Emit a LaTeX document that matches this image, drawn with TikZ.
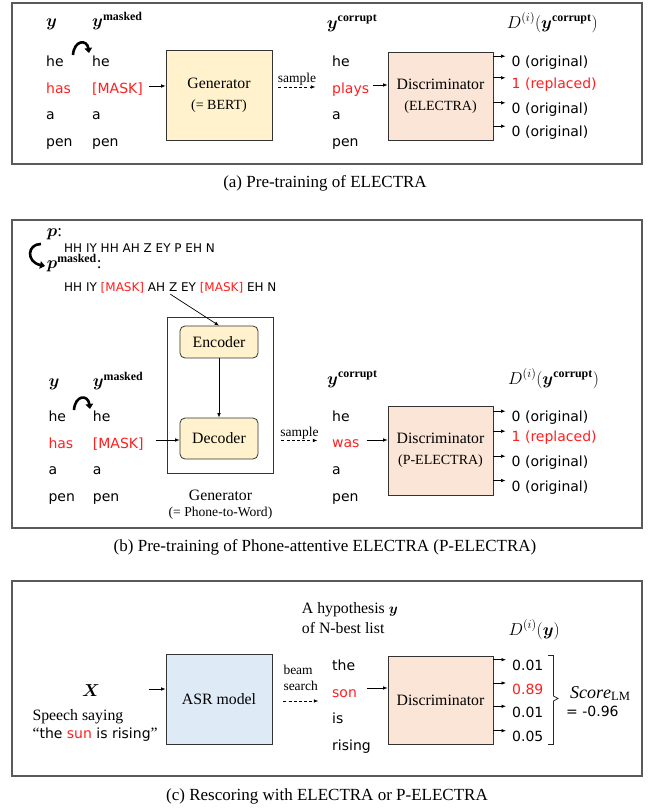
\documentclass[tikz,border=0pt]{standalone}
\usepackage{amsmath}
\usepackage{fontspec}
\setmainfont{Liberation Serif}
\newfontfamily\vfont{DejaVu Sans}
\usetikzlibrary{arrows.meta}
\definecolor{tred}{HTML}{FF1F1F}
\definecolor{genfill}{HTML}{FFF2CC}
\definecolor{disfill}{HTML}{FBE5D6}
\definecolor{asrfill}{HTML}{DEEBF7}
\definecolor{frgray}{HTML}{5A5A5A}
\newcommand{\fsz}[1]{\fontsize{#1}{20}\selectfont}
\tikzset{
  wd/.style={font=\vfont\fsz{14}, inner sep=0pt, anchor=base west, text height=11pt, text depth=3pt},
  rwd/.style={wd, text=tred},
  ph/.style={font=\vfont\fsz{12}, inner sep=0pt, anchor=base west, text height=9pt, text depth=3pt},
  mth/.style={font=\fsz{17}, inner sep=0pt, anchor=base west},
  ser/.style={font=\fsz{15.8}, inner sep=0pt},
  lbl/.style={font=\fsz{13.5}, inner sep=1pt},
  captext/.style={font=\fsz{17}, inner sep=0pt, anchor=base},
  panelframe/.style={draw=frgray, line width=1.1pt},
  blk/.style={draw=black!80, line width=0.8pt, align=center, font=\fsz{15.8}, inner sep=0pt},
  genbox/.style={blk, fill=genfill},
  disbox/.style={blk, fill=disfill},
  asrbox/.style={blk, fill=asrfill},
  rbox/.style={blk, fill=genfill, rounded corners=5pt},
  arr/.style={-{Latex[length=4.5pt,width=3.6pt]}, line width=0.7pt},
  dasharr/.style={arr, dash pattern=on 3pt off 2.2pt},
  curl/.style={line width=2.6pt, -{Triangle[length=5pt,width=7.5pt]}},
  brk/.style={line width=0.8pt, draw=black!85},
}
\begin{document}
\begin{tikzpicture}[x=1pt,y=-1pt]
\useasboundingbox (0,0) rectangle (649,811);

%%%%%%%%%%%%%%%% Panel (a)
\draw[panelframe] (12,3) rectangle (642,164);
\node[mth] (yA) at (46,27) {$\boldsymbol{y}$};
\node[mth] (ymA) at (92,27) {$\boldsymbol{y}^{\mathbf{masked}}$};
\node[wd] (a11) at (46,66.5) {he};
\node[rwd] (a12) at (46,93) {has};
\node[wd] (a13) at (46,119.5) {a};
\node[wd] (a14) at (46,146) {pen};
\node[wd] (a21) at (92,66.5) {he};
\node[rwd] (a22) at (92,93) {[MASK]};
\node[wd] (a23) at (92,119.5) {a};
\node[wd] (a24) at (92,146) {pen};
\coordinate (cA1) at (73,55);
\coordinate (cA2) at (89,53);
\draw[curl] (cA1) .. controls (74,40) and (87,39) .. (cA2);
\node[genbox, minimum width=106pt, minimum height=90pt] (genA) at (219,95)
  {Generator\\[1pt]{\fsz{14}(= BERT)}};
\draw[arr] ([xshift=6pt,yshift=3pt]a22.east) -- ([yshift=3pt]a22.east -| genA.west);
\draw[dasharr] ([xshift=6pt,yshift=8pt]genA.east) -- +(37,0)
  node[midway, above, lbl] (smpA) {sample};
\node[mth] (ycA) at (326.7,28) {$\boldsymbol{y}^{\mathbf{corrupt}}$};
\node[wd] (a31) at (332,66.5) {he};
\node[rwd] (a32) at (332,93) {plays};
\node[wd] (a33) at (332,119.5) {a};
\node[wd] (a34) at (332,146) {pen};
\node[disbox, minimum width=105pt, minimum height=88pt] (disA) at (440.5,96)
  {Discriminator\\[1pt]{\fsz{14}(ELECTRA)}};
\draw[arr] ([xshift=4pt,yshift=4pt]a32.east) -- ([yshift=4pt]a32.east -| disA.west);
\node[mth] (dA) at (506.7,28) {$D^{(i)}(\boldsymbol{y}^{\mathbf{corrupt}})$};
\node[wd] (oA1) at (511.5,66.7) {0 (original)};
\node[rwd] (oA2) at (511.5,88.3) {1 (replaced)};
\node[wd] (oA3) at (511.5,113.3) {0 (original)};
\node[wd] (oA4) at (511.5,136.7) {0 (original)};
\foreach \o in {oA1,oA2,oA3,oA4}
  \draw[arr] ([yshift=10.5pt]\o.base west -| disA.east) -- ([xshift=-6pt,yshift=10.5pt]\o.base west);
\node[captext] (capA) at (325,187.5) {(a) Pre-training of ELECTRA};

%%%%%%%%%%%%%%%% Panel (b)
\draw[panelframe] (12,220) rectangle (642,528);
\node[mth] (pB) at (46.7,236) {$\boldsymbol{p}$:};
\node[ph] (ph1) at (64,252.3) {HH IY HH AH Z EY P EH N};
\node[mth] (pmB) at (46.7,268.3) {$\boldsymbol{p}^{\mathbf{masked}}$:};
\node[ph] (ph2) at (64,291) {HH IY \textcolor{tred}{[MASK]} AH Z EY \textcolor{tred}{[MASK]} EH N};
\coordinate (cB1) at (41,244);
\coordinate (cB2) at (45,266);
\draw[curl] (cB1) .. controls (27,244) and (26,262) .. (cB2);
\node[blk, minimum width=106pt, minimum height=156pt] (gbox) at (220,395) {};
\node[rbox, minimum width=78pt, minimum height=32pt] (enc) at (219,342) {Encoder};
\node[rbox, minimum width=78pt, minimum height=41pt] (dec) at (219,438.5) {Decoder};
\draw[arr] (enc) -- (dec);
\draw[arr] (ph2.south) -- (enc.north);
\node[mth] (yB) at (48.3,386.7) {$\boldsymbol{y}$};
\node[mth] (ymB) at (92.7,386.7) {$\boldsymbol{y}^{\mathbf{masked}}$};
\node[wd] (b11) at (48.3,421.5) {he};
\node[rwd] (b12) at (48.3,448) {has};
\node[wd] (b13) at (48.3,474.5) {a};
\node[wd] (b14) at (48.3,501) {pen};
\node[wd] (b21) at (92.7,421.5) {he};
\node[rwd] (b22) at (92.7,448) {[MASK]};
\node[wd] (b23) at (92.7,474.5) {a};
\node[wd] (b24) at (92.7,501) {pen};
\coordinate (cB3) at (74,410);
\coordinate (cB4) at (90,409);
\draw[curl] (cB3) .. controls (75,395) and (88,394) .. (cB4);
\draw[arr] ([xshift=12pt,yshift=4pt]b22.east) -- ([yshift=4pt]b22.east -| dec.west);
\node[ser, anchor=base] (glB) at (220.5,500) {Generator};
\node[ser, anchor=base, font=\fsz{13.6}] (glB2) at (220.5,516.7) {(= Phone-to-Word)};
\draw[dasharr] ([xshift=8pt,yshift=-2pt]gbox.east |- dec.east) -- +(36,0)
  node[midway, above, lbl] (smpB) {sample};
\node[mth] (ycB) at (327,384) {$\boldsymbol{y}^{\mathbf{corrupt}}$};
\node[wd] (b31) at (332,421.5) {he};
\node[rwd] (b32) at (332,447.5) {was};
\node[wd] (b33) at (332,474) {a};
\node[wd] (b34) at (332,501) {pen};
\node[disbox, minimum width=105pt, minimum height=89pt] (disB) at (440.5,450.5)
  {Discriminator\\[1pt]{\fsz{14}(P-ELECTRA)}};
\draw[arr] ([xshift=7pt,yshift=3.5pt]b32.east) -- ([yshift=3.5pt]b32.east -| disB.west);
\node[mth] (dB) at (508,384) {$D^{(i)}(\boldsymbol{y}^{\mathbf{corrupt}})$};
\node[wd] (oB1) at (511.5,421.7) {0 (original)};
\node[rwd] (oB2) at (511.5,441.7) {1 (replaced)};
\node[wd] (oB3) at (511.5,466.7) {0 (original)};
\node[wd] (oB4) at (511.5,491) {0 (original)};
\foreach \o in {oB1,oB2,oB3,oB4}
  \draw[arr] ([yshift=10.5pt]\o.base west -| disB.east) -- ([xshift=-6pt,yshift=10.5pt]\o.base west);
\node[captext] (capB) at (325,551.7) {(b) Pre-training of Phone-attentive ELECTRA (P-ELECTRA)};

%%%%%%%%%%%%%%%% Panel (c)
\draw[panelframe] (12,581) rectangle (642,776);
\node[mth, anchor=base] (X) at (91,696.7) {$\boldsymbol{X}$};
\node[ser, anchor=base west] (sp1) at (32.3,720) {Speech saying};
\node[ser, anchor=base west] (sp2) at (32.3,738.3) {“{\vfont\fsz{14}the \textcolor{tred}{sun} is rising}”};
\node[asrbox, minimum width=106pt, minimum height=90pt] (asr) at (219,699) {ASR model};
\draw[arr] ([xshift=-17pt,yshift=10pt]asr.west) -- ([yshift=10pt]asr.west);
\node[lbl, inner sep=0pt, anchor=base west] (bm1) at (283.3,674) {beam};
\node[lbl, inner sep=0pt, anchor=base west] (bm2) at (283.3,690) {search};
\draw[dasharr] ([xshift=11pt,yshift=-2pt]asr.east) -- +(35,0);
\node[ser, anchor=base west] (hy1) at (301.7,613.3) {A hypothesis $\boldsymbol{y}$};
\node[ser, anchor=base west] (hy2) at (301.7,633.3) {of N-best list};
\node[wd] (c1) at (332,670) {the};
\node[rwd] (c2) at (332,697) {son};
\node[wd] (c3) at (332,723.5) {is};
\node[wd] (c4) at (332,750) {rising};
\node[disbox, minimum width=105pt, minimum height=88pt] (disC) at (440.5,700) {Discriminator};
\draw[arr] ([xshift=10pt,yshift=5pt]c2.east) -- ([yshift=5pt]c2.east -| disC.west);
\node[mth] (dC) at (508.3,635) {$D^{(i)}(\boldsymbol{y})$};
\node[wd] (oC1) at (512,670.7) {0.01};
\node[rwd] (oC2) at (512,694) {0.89};
\node[wd] (oC3) at (512,717.3) {0.01};
\node[wd] (oC4) at (512,741.7) {0.05};
\foreach \o in {oC1,oC2,oC3,oC4}
  \draw[arr] ([yshift=11pt]\o.base west -| disC.east) -- ([xshift=-6pt,yshift=11pt]\o.base west);
\draw[brk] (548,655.5) -- (553.5,655.5) -- (553.5,696) -- (558,698.5) -- (553.5,701) -- (553.5,744.5) -- (548,744.5);
\node[mth, anchor=base west, font=\fsz{18}] (sc) at (570,698.3) {$\mathit{Score}_{\mathrm{LM}}$};
\node[wd] (eq) at (566,716.7) {= -0.96};
\node[captext] (capC) at (327,800) {(c) Rescoring with ELECTRA or P-ELECTRA};
\end{tikzpicture}
\end{document}
